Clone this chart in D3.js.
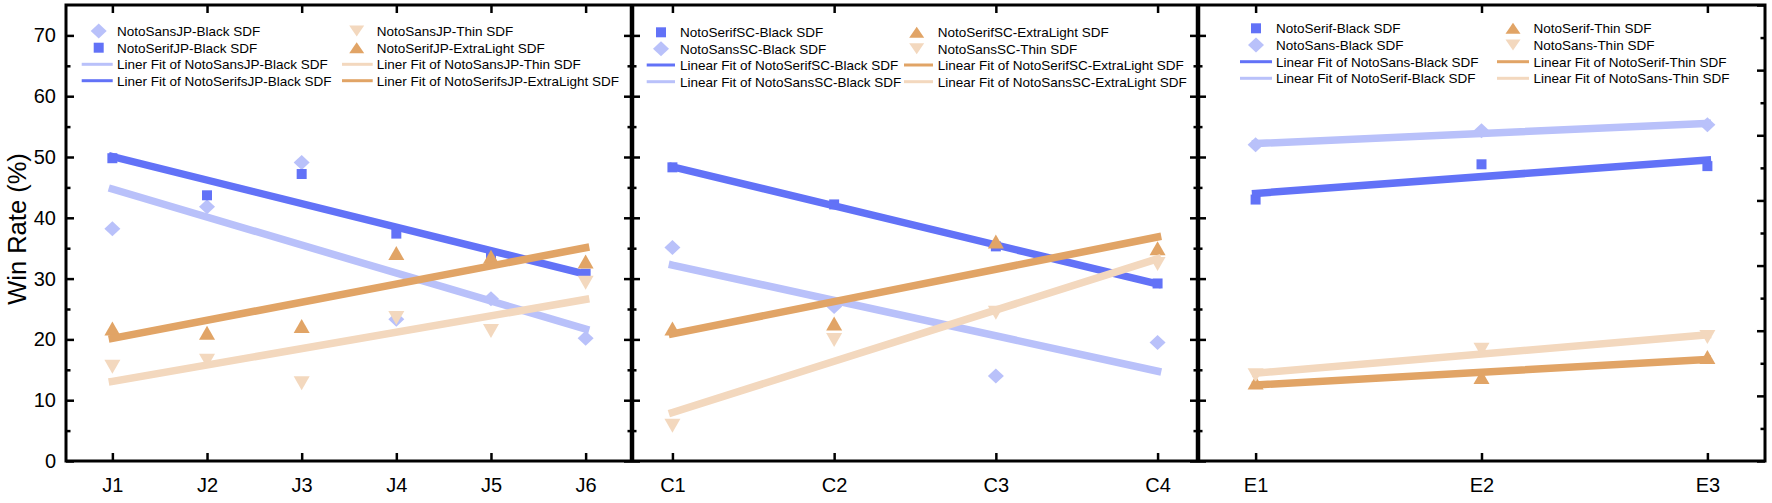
<!DOCTYPE html>
<html><head><meta charset="utf-8">
<script src="https://cdn.jsdelivr.net/npm/d3@7"></script>
<style>
body{margin:0;background:#fff}
svg{display:block}
text{font-family:"Liberation Sans",Arial,sans-serif;fill:#000}
</style>
</head><body>
<svg id="c" width="1772" height="503"></svg>
<script>
// ---------- data ----------
const catsJP = ["J1","J2","J3","J4","J5","J6"];
const sansJPBlack       = [38.2, 41.8, 49.1, 23.3, 26.7, 20.2];
const serifJPBlack      = [49.8, 43.7, 47.2, 37.4, 33.5, 30.8];
const sansJPThin        = [15.5, 16.5, 12.8, 23.5, 21.4, 29.3];
const serifJPExtraLight = [21.8, 21.1, 22.2, 34.2, 33.6, 32.8];

const catsSC = ["C1","C2","C3","C4"];
const serifSCBlack      = [48.3, 42.2, 35.3, 29.2];
const sansSCBlack       = [35.1, 25.4, 14.0, 19.5];
const serifSCExtraLight = [21.8, 22.6, 36.1, 35.0];
const sansSCThin        = [5.8, 19.9, 24.4, 32.4];

const catsEN = ["E1","E2","E3"];
const serifBlack = [43.0, 48.8, 48.5];
const sansBlack  = [52.0, 54.3, 55.3];
const serifThin  = [12.9, 13.8, 17.1];
const sansThin   = [14.1, 18.3, 20.4];

const yMajor = [0,10,20,30,40,50,60,70];
const yMinor = [5,15,25,35,45,55,65];
const yRightMajor = [0,10,20,30,40,50,60,70];
const yRightMinor = [5,15,25,35,45,55,65];

// ---------- styles ----------
const C = {blue:"#6272F7", lightBlue:"#B9C1FA", orange:"#E1A466", peach:"#F3D8BE"};
const TOP = 5, BOTTOM = 461;
const svg = d3.select("#c");
svg.append("rect").attr("width",1772).attr("height",503).attr("fill","#fff");

const y = d3.scaleLinear().domain([0,75]).range([BOTTOM, TOP]);
const yR3 = d3.scaleLinear().domain([0,70]).range([BOTTOM, TOP]);

function shapePath(shape, legend){
  const p = d3.path();
  if(shape==="diamond"){ const rx=8, ry=7.5; p.moveTo(0,-ry);p.lineTo(rx,0);p.lineTo(0,ry);p.lineTo(-rx,0);p.closePath(); }
  else if(shape==="square"){ const s=5; p.rect(-s,-s,2*s,2*s); }
  else { const w = legend?15:16, h = legend?11:14; const d = shape==="triUp"?1:-1;
    p.moveTo(0,-d*h/2); p.lineTo(w/2,d*h/2); p.lineTo(-w/2,d*h/2); p.closePath(); }
  return p.toString();
}
function linFit(vals){
  const n=vals.length, xs=d3.range(n), mx=d3.mean(xs), my=d3.mean(vals);
  let sxy=0,sxx=0; xs.forEach((x,i)=>{sxy+=(x-mx)*(vals[i]-my); sxx+=(x-mx)*(x-mx);});
  const b=sxy/sxx; return [my-b*mx, my+b*(n-1-mx)];
}

const panels = [
 { cats:catsJP, range:[66,632], padding:0.49,
   rows:[31,47.7,64.3,80.7], cols:[{m:98.7,l:[81.7,112.7],t:117},{m:356.7,l:[342,372.7],t:376.7}],
   items:[
    {kind:"pt",  values:sansJPBlack, shape:"diamond", color:C.lightBlue, label:"NotoSansJP-Black SDF"},
    {kind:"pt",  values:serifJPBlack, shape:"square", color:C.blue, label:"NotoSerifJP-Black SDF"},
    {kind:"fit", values:sansJPBlack, color:C.lightBlue, label:"Liner Fit of NotoSansJP-Black SDF"},
    {kind:"fit", values:serifJPBlack, color:C.blue, label:"Liner Fit of NotoSerifsJP-Black SDF"},
    {kind:"pt",  values:sansJPThin, shape:"triDown", color:C.peach, label:"NotoSansJP-Thin SDF"},
    {kind:"pt",  values:serifJPExtraLight, shape:"triUp", color:C.orange, label:"NotoSerifJP-ExtraLight SDF"},
    {kind:"fit", values:sansJPThin, color:C.peach, label:"Liner Fit of NotoSansJP-Thin SDF"},
    {kind:"fit", values:serifJPExtraLight, color:C.orange, label:"Liner Fit of NotoSerifsJP-ExtraLight SDF"}
   ]},
 { cats:catsSC, range:[632,1198], padding:0.25,
   rows:[32.3,48.7,65,81.7], cols:[{m:661,l:[646.7,675],t:680},{m:916.7,l:[904,933],t:937.7}],
   items:[
    {kind:"pt",  values:serifSCBlack, shape:"square", color:C.blue, label:"NotoSerifSC-Black SDF"},
    {kind:"pt",  values:sansSCBlack, shape:"diamond", color:C.lightBlue, label:"NotoSansSC-Black SDF"},
    {kind:"fit", values:serifSCBlack, color:C.blue, label:"Linear Fit of NotoSerifSC-Black SDF"},
    {kind:"fit", values:sansSCBlack, color:C.lightBlue, label:"Linear Fit of NotoSansSC-Black SDF"},
    {kind:"pt",  values:serifSCExtraLight, shape:"triUp", color:C.orange, label:"NotoSerifSC-ExtraLight SDF"},
    {kind:"pt",  values:sansSCThin, shape:"triDown", color:C.peach, label:"NotoSansSC-Thin SDF"},
    {kind:"fit", values:serifSCExtraLight, color:C.orange, label:"Linear Fit of NotoSerifSC-ExtraLight SDF"},
    {kind:"fit", values:sansSCThin, color:C.peach, label:"Linear Fit of NotoSansSC-ExtraLight SDF"}
   ]},
 { cats:catsEN, range:[1198,1765], padding:0.255,
   rows:[28.3,45,61.7,78.3], cols:[{m:1256,l:[1240,1272],t:1276},{m:1513,l:[1497,1529],t:1533.6}],
   items:[
    {kind:"pt",  values:serifBlack, shape:"square", color:C.blue, label:"NotoSerif-Black SDF"},
    {kind:"pt",  values:sansBlack, shape:"diamond", color:C.lightBlue, label:"NotoSans-Black SDF"},
    {kind:"fit", values:serifBlack, color:C.blue, label:"Linear Fit of NotoSans-Black SDF"},
    {kind:"fit", values:sansBlack, color:C.lightBlue, label:"Linear Fit of NotoSerif-Black SDF"},
    {kind:"pt",  values:serifThin, shape:"triUp", color:C.orange, label:"NotoSerif-Thin SDF"},
    {kind:"pt",  values:sansThin, shape:"triDown", color:C.peach, label:"NotoSans-Thin SDF"},
    {kind:"fit", values:serifThin, color:C.orange, label:"Linear Fit of NotoSerif-Thin SDF"},
    {kind:"fit", values:sansThin, color:C.peach, label:"Linear Fit of NotoSans-Thin SDF"}
   ]}
];

function styleAxis(g){
  g.select(".domain").remove();
  g.selectAll(".tick line").attr("stroke","#000").attr("stroke-width",2.5);
  g.selectAll(".tick text").attr("font-size","20px").attr("fill","#000")
   .attr("font-family",'"Liberation Sans",Arial,sans-serif');
}

panels.forEach((P, pi)=>{
  const x = d3.scalePoint().domain(P.cats).range(P.range).padding(P.padding);
  const g = svg.append("g");
  const [x0,x1] = P.range;

  // data marks in legend order
  P.items.forEach(it=>{
    if(it.kind==="pt"){
      g.append("g").selectAll("path").data(it.values).join("path")
        .attr("d", shapePath(it.shape,false))
        .attr("transform",(d,i)=>`translate(${x(P.cats[i])},${y(d)})`)
        .attr("fill", it.color);
    } else {
      const f = linFit(it.values);
      const pts = [[P.cats[0], f[0]], [P.cats[P.cats.length-1], f[1]]];
      g.append("path").datum(pts)
        .attr("d", d3.line().x(d=>x(d[0])).y(d=>y(d[1])))
        .attr("fill","none").attr("stroke", it.color).attr("stroke-width",7.5)
        .attr("stroke-linecap","square");
    }
  });

  // legend
  P.items.forEach((it,i)=>{
    const col = P.cols[Math.floor(i/4)], ry = P.rows[i%4];
    if(it.kind==="pt"){
      g.append("path").attr("d", shapePath(it.shape,true))
        .attr("transform",`translate(${col.m},${ry})`).attr("fill",it.color);
    } else {
      g.append("line").attr("x1",col.l[0]).attr("x2",col.l[1]).attr("y1",ry).attr("y2",ry)
        .attr("stroke",it.color).attr("stroke-width",3);
    }
    g.append("text").attr("x",col.t).attr("y",ry).attr("dy","0.36em")
      .attr("font-size","13.5px").text(it.label);
  });

  // bottom axis (ticks inward, labels)
  svg.append("g").attr("transform",`translate(0,${BOTTOM})`)
    .call(d3.axisBottom(x).tickSizeInner(-8).tickSizeOuter(0).tickPadding(17)).call(styleAxis);
  // top axis
  svg.append("g").attr("transform",`translate(0,${TOP})`)
    .call(d3.axisTop(x).tickSizeInner(-8).tickSizeOuter(0).tickFormat("")).call(styleAxis);
  // left axis (inward)
  const lg = svg.append("g").attr("transform",`translate(${x0},0)`);
  if(pi===0){
    lg.call(d3.axisLeft(y).tickValues(yMajor).tickSizeInner(-8).tickSizeOuter(0).tickPadding(10)).call(styleAxis);
  } else {
    lg.call(d3.axisLeft(y).tickValues(yMajor).tickSizeInner(-8).tickSizeOuter(0).tickFormat("")).call(styleAxis);
  }
  svg.append("g").attr("transform",`translate(${x0},0)`)
    .call(d3.axisLeft(y).tickValues(yMinor).tickSizeInner(-4.5).tickSizeOuter(0).tickFormat("")).call(styleAxis);
  // right axis (inward)
  const ys = pi===2 ? yR3 : y;
  const mj = pi===2 ? yRightMajor : yMajor, mn = pi===2 ? yRightMinor : yMinor;
  svg.append("g").attr("transform",`translate(${x1},0)`)
    .call(d3.axisRight(ys).tickValues(mj).tickSizeInner(-8).tickSizeOuter(0).tickFormat("")).call(styleAxis);
  svg.append("g").attr("transform",`translate(${x1},0)`)
    .call(d3.axisRight(ys).tickValues(mn).tickSizeInner(-4.5).tickSizeOuter(0).tickFormat("")).call(styleAxis);
});

// frame
svg.append("rect").attr("x",66).attr("y",TOP).attr("width",1765-66).attr("height",BOTTOM-TOP)
  .attr("fill","none").attr("stroke","#000").attr("stroke-width",3);
[632,1198].forEach(xx=>{
  svg.append("line").attr("x1",xx).attr("x2",xx).attr("y1",TOP).attr("y2",BOTTOM)
    .attr("stroke","#000").attr("stroke-width",4.5);
});

// y label
svg.append("text").attr("transform",`translate(17,229) rotate(-90)`)
  .attr("text-anchor","middle").attr("dy","0.35em").attr("font-size","25.5px").text("Win Rate (%)");
</script>
</body></html>
